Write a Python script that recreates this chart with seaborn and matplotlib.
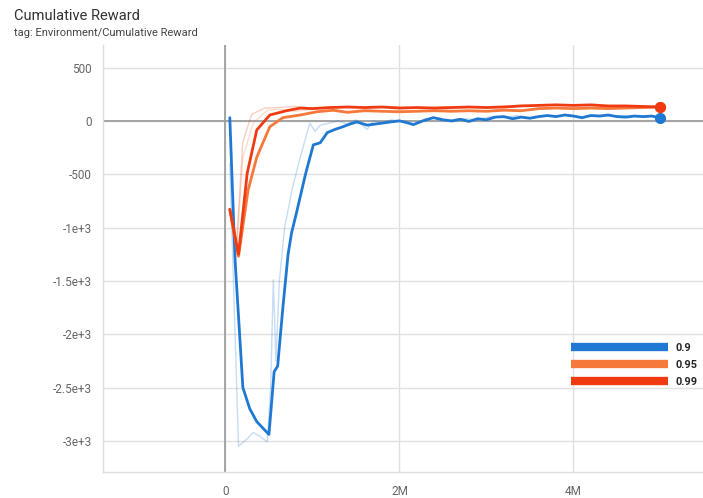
import matplotlib
matplotlib.use("Agg")
import matplotlib.pyplot as plt
from matplotlib.lines import Line2D
import seaborn as sns
import pandas as pd

# ---- data (x in millions of steps) ----
blue_x = [0.05, 0.11, 0.20, 0.28, 0.36, 0.43, 0.50, 0.56, 0.60, 0.66, 0.72, 0.76, 0.82, 0.92, 1.01,
          1.09, 1.17, 1.26, 1.35, 1.43, 1.51, 1.63, 1.72, 1.81, 1.90, 2.00, 2.08, 2.16, 2.27, 2.39,
          2.50, 2.60, 2.70, 2.80, 2.90, 3.00, 3.10, 3.20, 3.30, 3.40, 3.50, 3.60, 3.70, 3.80, 3.90,
          4.00, 4.10, 4.20, 4.30, 4.40, 4.50, 4.60, 4.70, 4.80, 4.90, 5.00]
blue_y = [30, -1300, -2500, -2700, -2820, -2880, -2940, -2350, -2300, -1750, -1250, -1050, -850, -500, -225,
          -205, -110, -80, -55, -30, -10, -40, -30, -20, -10, 0, -15, -35, 0, 30,
          10, 0, 15, -5, 20, 10, 35, 40, 20, 35, 25, 40, 50, 40, 55,
          45, 30, 50, 45, 55, 40, 35, 45, 40, 45, 30]

blue_raw_x = [0.05, 0.15, 0.25, 0.32, 0.40, 0.48, 0.52, 0.55, 0.58, 0.62, 0.68, 0.77, 0.86, 0.97, 1.03,
              1.09, 1.20, 1.30, 1.40, 1.50, 1.63, 1.70, 1.80, 1.90, 2.00, 2.16, 2.30, 2.45, 2.60, 2.75,
              2.90, 3.05, 3.20, 3.35, 3.50, 3.65, 3.80, 3.95, 4.10, 4.25, 4.40, 4.55, 4.70, 4.85, 5.00]
blue_raw_y = [-400, -3050, -2980, -2920, -2960, -3010, -2500, -1490, -2250, -1500, -1000, -630, -340, -20, -100,
              -40, -20, 0, -30, 10, -80, 0, -20, 10, 0, -40, 20, 30, -10, 20,
              10, 40, 30, 50, 20, 50, 40, 60, 30, 55, 45, 50, 40, 50, 30]

orange_x = [0.05, 0.15, 0.26, 0.36, 0.51, 0.66, 0.86, 1.05, 1.24, 1.40, 1.60, 1.80, 2.00, 2.20, 2.40,
            2.60, 2.80, 3.00, 3.20, 3.40, 3.60, 3.80, 4.00, 4.20, 4.40, 4.60, 4.80, 5.00]
orange_y = [-830, -1270, -650, -340, -55, 30, 55, 85, 100, 80, 95, 90, 85, 90, 95,
            90, 95, 90, 100, 95, 115, 120, 115, 120, 115, 120, 125, 130]

orange_raw_x = [0.05, 0.12, 0.20, 0.32, 0.48, 0.60, 0.80, 1.00, 1.20, 1.40, 1.60, 1.80, 2.00, 2.30, 2.60,
                2.90, 3.20, 3.50, 3.80, 4.10, 4.40, 4.70, 5.00]
orange_raw_y = [-830, -1300, -340, -20, 100, 110, 90, 110, 95, 80, 110, 85, 95, 90, 100,
                85, 110, 100, 125, 115, 125, 120, 135]

red_x = [0.05, 0.15, 0.25, 0.36, 0.51, 0.70, 0.86, 1.00, 1.20, 1.40, 1.60, 1.80, 2.00, 2.20, 2.40,
         2.60, 2.80, 3.00, 3.20, 3.40, 3.60, 3.80, 4.00, 4.20, 4.40, 4.60, 4.80, 5.00]
red_y = [-830, -1250, -490, -85, 55, 95, 120, 115, 125, 130, 125, 130, 120, 125, 120,
         125, 130, 125, 130, 140, 145, 150, 145, 150, 140, 140, 135, 130]

red_raw_x = [0.05, 0.12, 0.20, 0.30, 0.45, 0.60, 0.80, 1.00, 1.30, 1.60, 1.90, 2.20, 2.50, 2.80, 3.10,
             3.40, 3.70, 4.00, 4.30, 4.60, 5.00]
red_raw_y = [-830, -1250, -200, 60, 120, 125, 135, 120, 130, 125, 135, 120, 130, 125, 135,
             145, 150, 145, 140, 135, 130]

labels = ["0.9", "0.95", "0.99"]
colors = ["#1f78d1", "#f5793a", "#f03b12"]

y_ticks = [500, 0, -500, -1000, -1500, -2000, -2500, -3000]
y_tick_labels = ["500", "0", "-500", "-1e+3", "-1.5e+3", "-2e+3", "-2.5e+3", "-3e+3"]
x_ticks = [0, 2, 4]
x_tick_labels = ["0", "2M", "4M"]

# ---- figure ----
sns.set_style("white")
plt.rcParams['font.family'] = ['Roboto', 'DejaVu Sans']

fig = plt.figure(figsize=(7.03, 4.98), dpi=100)
ax = fig.add_axes([0.1465, 0.052, 0.8535, 0.858])

ax.set_xlim(-1.408, 5.49)
ax.set_ylim(-3293, 713)

for y in y_ticks:
    ax.axhline(y, color="#e0e0e0", lw=1, zorder=0)
for x in x_ticks:
    ax.axvline(x, color="#e0e0e0", lw=1, zorder=0)
ax.axhline(0, color="#9e9e9e", lw=1.3, zorder=0.5)
ax.axvline(0, color="#9e9e9e", lw=1.3, zorder=0.5)

raws = [(blue_raw_x, blue_raw_y), (orange_raw_x, orange_raw_y), (red_raw_x, red_raw_y)]
smooth = [(blue_x, blue_y), (orange_x, orange_y), (red_x, red_y)]

for (xs, ys), c in zip(raws, colors):
    df = pd.DataFrame({"x": xs, "y": ys})
    sns.lineplot(data=df, x="x", y="y", ax=ax, color=c, lw=1, alpha=0.25, zorder=2)
for (xs, ys), c in zip(smooth, colors):
    df = pd.DataFrame({"x": xs, "y": ys})
    sns.lineplot(data=df, x="x", y="y", ax=ax, color=c, lw=2, zorder=3)
    ax.plot([xs[-1]], [ys[-1]], "o", color=c, ms=7, zorder=4)

ax.set_yticks(y_ticks)
ax.set_yticklabels(y_tick_labels)
ax.set_xticks(x_ticks)
ax.set_xticklabels(x_tick_labels)
ax.tick_params(axis="both", length=0, labelsize=8.5, colors="#666666")
ax.tick_params(axis="y", pad=8)
ax.tick_params(axis="x", pad=9)
ax.set_xlabel("")
ax.set_ylabel("")
for s in ["top", "right"]:
    ax.spines[s].set_visible(False)
for s in ["left", "bottom"]:
    ax.spines[s].set_color("#dddddd")
    ax.spines[s].set_linewidth(1)

handles = [Line2D([0], [0], color=c, lw=6, solid_capstyle="butt") for c in colors]
leg = ax.legend(handles, labels, loc="upper left", bbox_to_anchor=(0.766, 0.322),
                frameon=False, handlelength=8.9, handletextpad=0.7, labelspacing=0.62,
                borderpad=0.3, prop={"weight": "bold", "size": 7.8})

fig.text(0.02, 0.968, "Cumulative Reward", fontsize=10.5, color="#333333", va="center")
fig.text(0.02, 0.934, "tag: Environment/Cumulative Reward", fontsize=8, color="#444444", va="center")

fig.savefig("out.png", dpi=100, facecolor="white")
